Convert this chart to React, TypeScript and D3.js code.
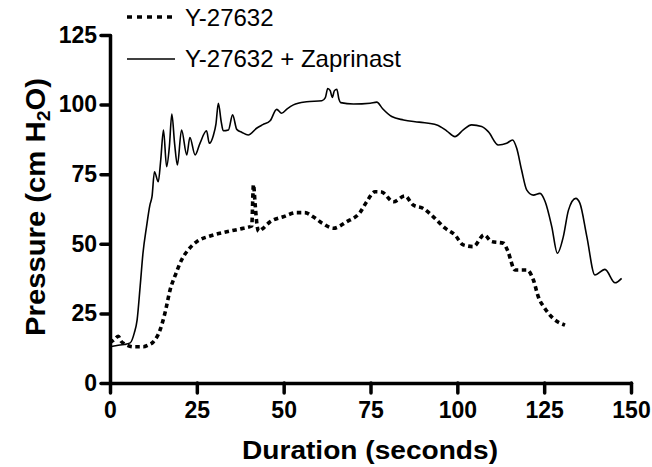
import React, { useEffect, useRef } from "react";
import * as d3 from "d3";

const W = 652;
const H = 467;

const xTicks = [0, 25, 50, 75, 100, 125, 150];
const yTicks = [0, 25, 50, 75, 100, 125];

const seriesNames = ["Y-27632", "Y-27632 + Zaprinast"];

// Y-27632 (dotted)
const dottedT = [0, 1.2, 2.4, 3.2, 4.3, 6.7, 9.6, 11, 12.5, 14.4, 15.8, 17.3, 19.0, 20.6, 22.5, 25.0, 28.8, 33.6, 38.4, 40.8, 41.3, 41.8, 42.3, 42.8, 43.7, 46.1, 49.9, 53.8, 56, 58.5, 61, 64.3, 68.1, 72.0, 73.9, 76.3, 78.2, 81.6, 84.9, 87.3, 90.2, 93.1, 96.5, 99.3, 101.7, 104.6, 107.7, 109.9, 113.3, 114.5, 116.6, 120, 121.9, 123.3, 125.2, 127.6, 131];
const dottedP = [14.5, 15.5, 16.8, 15, 14.0, 13.0, 13.0, 13.6, 14.8, 19.0, 25.0, 33.4, 39.4, 44.2, 47.8, 50.8, 52.8, 54.3, 55.6, 56.4, 71.3, 64, 57, 54.5, 55.2, 57.9, 59.7, 61.2, 61.2, 59.7, 57.5, 55.6, 57.9, 61.3, 65.1, 68.7, 68.6, 65.1, 67.2, 63.9, 62.7, 59.7, 55.6, 53.2, 49.6, 49.0, 53.2, 50.8, 50.2, 47.5, 40.6, 40.6, 37, 31, 26.8, 23.2, 20.8];

// Y-27632 + Zaprinast (solid)
const solidT = [0, 2, 4, 5.8, 7, 7.8, 8.7, 9.5, 10.5, 11.5, 12.1, 12.8, 13.9, 14.6, 15.4, 16.3, 17.1, 17.8, 18.6, 19.4, 20.6, 22.1, 23.0, 24.5, 25.9, 27.8, 28.6, 29.8, 30.5, 31.2, 32.0, 32.6, 34.1, 35.3, 36.5, 38, 39.8, 42.2, 44, 46.1, 48.0, 49.4, 51, 52.8, 56.6, 61.0, 62.0, 62.7, 63.4, 64.0, 64.6, 65.3, 65.9, 66.4, 70.1, 74.9, 76.8, 78.5, 81.1, 84.5, 89, 94.1, 97, 99.3, 101.7, 104.1, 107.0, 108.9, 111.8, 114.2, 115.9, 117.1, 118.5, 120.0, 121.9, 123.8, 125.3, 127.2, 128.8, 130.5, 132.0, 134.1, 135.3, 137.3, 139.6, 142.5, 145.4, 147.3];
const solidP = [13.0, 13.5, 13.8, 14.4, 18, 22.6, 35, 46.7, 56, 64, 67, 75.9, 72.3, 80, 90.9, 77.7, 85, 96.6, 86, 78.3, 90.9, 81.9, 88.2, 81.9, 86.1, 90.6, 86.1, 89.1, 93, 100.5, 94, 90.6, 90.9, 96.3, 91.1, 90, 89.1, 91.5, 92.8, 94.2, 98.3, 96.9, 98.5, 99.9, 101.0, 101.4, 102.5, 105.8, 105, 102.6, 105, 105.5, 102, 100.7, 100.2, 100.5, 100.9, 98.5, 95.7, 94.5, 93.7, 92.7, 90.5, 88.5, 90.9, 92.7, 92.1, 90.3, 85.5, 86.1, 87.3, 84.3, 76.5, 69.3, 67.5, 68.1, 65.1, 56.1, 46.6, 52.5, 62.1, 66.3, 64.5, 52.5, 38.8, 40.8, 36.0, 37.6];

const FONT = "'Liberation Sans', Arial, Helvetica, sans-serif";

export default function App() {
  const xAxisRef = useRef<SVGGElement>(null);
  const yAxisRef = useRef<SVGGElement>(null);

  const x = d3.scaleLinear().domain([0, 150]).range([110, 631]);
  const y = d3.scaleLinear().domain([0, 125]).range([383, 35]);

  const dotted = dottedT.map((t, i) => [t, dottedP[i]] as [number, number]);
  const solid = solidT.map((t, i) => [t, solidP[i]] as [number, number]);

  const line = d3
    .line<[number, number]>()
    .x((d) => x(d[0]))
    .y((d) => y(d[1]))
    .curve(d3.curveMonotoneX);

  useEffect(() => {
    const style = (g: d3.Selection<SVGGElement, unknown, null, undefined>) => {
      g.selectAll("path.domain").attr("stroke", "#000").attr("stroke-width", 3.5).attr("stroke-linecap", "round");
      g.selectAll(".tick line").attr("stroke", "#000").attr("stroke-width", 3.5).attr("stroke-linecap", "round");
      g.selectAll(".tick text")
        .attr("fill", "#000")
        .style("font-family", FONT)
        .style("font-weight", "bold")
        .style("font-size", "23px");
    };
    if (xAxisRef.current) {
      const g = d3.select(xAxisRef.current);
      g.call(
        d3.axisBottom(x).tickValues(xTicks).tickSize(10).tickSizeOuter(0).tickPadding(9).tickFormat(d3.format("d"))
      );
      style(g);
    }
    if (yAxisRef.current) {
      const g = d3.select(yAxisRef.current);
      g.call(
        d3.axisLeft(y).tickValues(yTicks).tickSize(9).tickSizeOuter(0).tickPadding(4).tickFormat(d3.format("d"))
      );
      style(g);
    }
  }, []);

  return (
    <svg
      width={W}
      height={H}
      style={{ position: "absolute", left: 0, top: 0, background: "#fff" }}
      fontFamily={FONT}
    >
      <rect width={W} height={H} fill="#fff" />
      <path d={line(solid) || ""} fill="none" stroke="#000" strokeWidth={1.6} strokeLinejoin="round" />
      <path d={line(dotted) || ""} fill="none" stroke="#000" strokeWidth={3.6} strokeDasharray="4.5,3.5" />
      <g ref={xAxisRef} transform="translate(0,383)" />
      <g ref={yAxisRef} transform="translate(110,0)" />

      {/* legend */}
      <line x1={127} x2={175} y1={17} y2={17} stroke="#000" strokeWidth={3.6} strokeDasharray="5,5" />
      <text x={185} y={26} fontSize={24} fill="#000">{seriesNames[0]}</text>
      <line x1={127} x2={175} y1={59} y2={59} stroke="#000" strokeWidth={1.6} />
      <text x={185} y={67} fontSize={24} fill="#000">{seriesNames[1]}</text>

      {/* axis titles */}
      <text
        x={370}
        y={459}
        textAnchor="middle"
        fontSize={25}
        fontWeight="bold"
        fill="#000"
        textLength={256}
        lengthAdjust="spacingAndGlyphs"
      >
        Duration (seconds)
      </text>
      <text
        transform="translate(45,207) rotate(-90)"
        textAnchor="middle"
        fontSize={27}
        fontWeight="bold"
        fill="#000"
        textLength={258}
        lengthAdjust="spacingAndGlyphs"
      >
        Pressure (cm H<tspan fontSize={18} dy={5}>2</tspan><tspan dy={-5}>O)</tspan>
      </text>
    </svg>
  );
}
